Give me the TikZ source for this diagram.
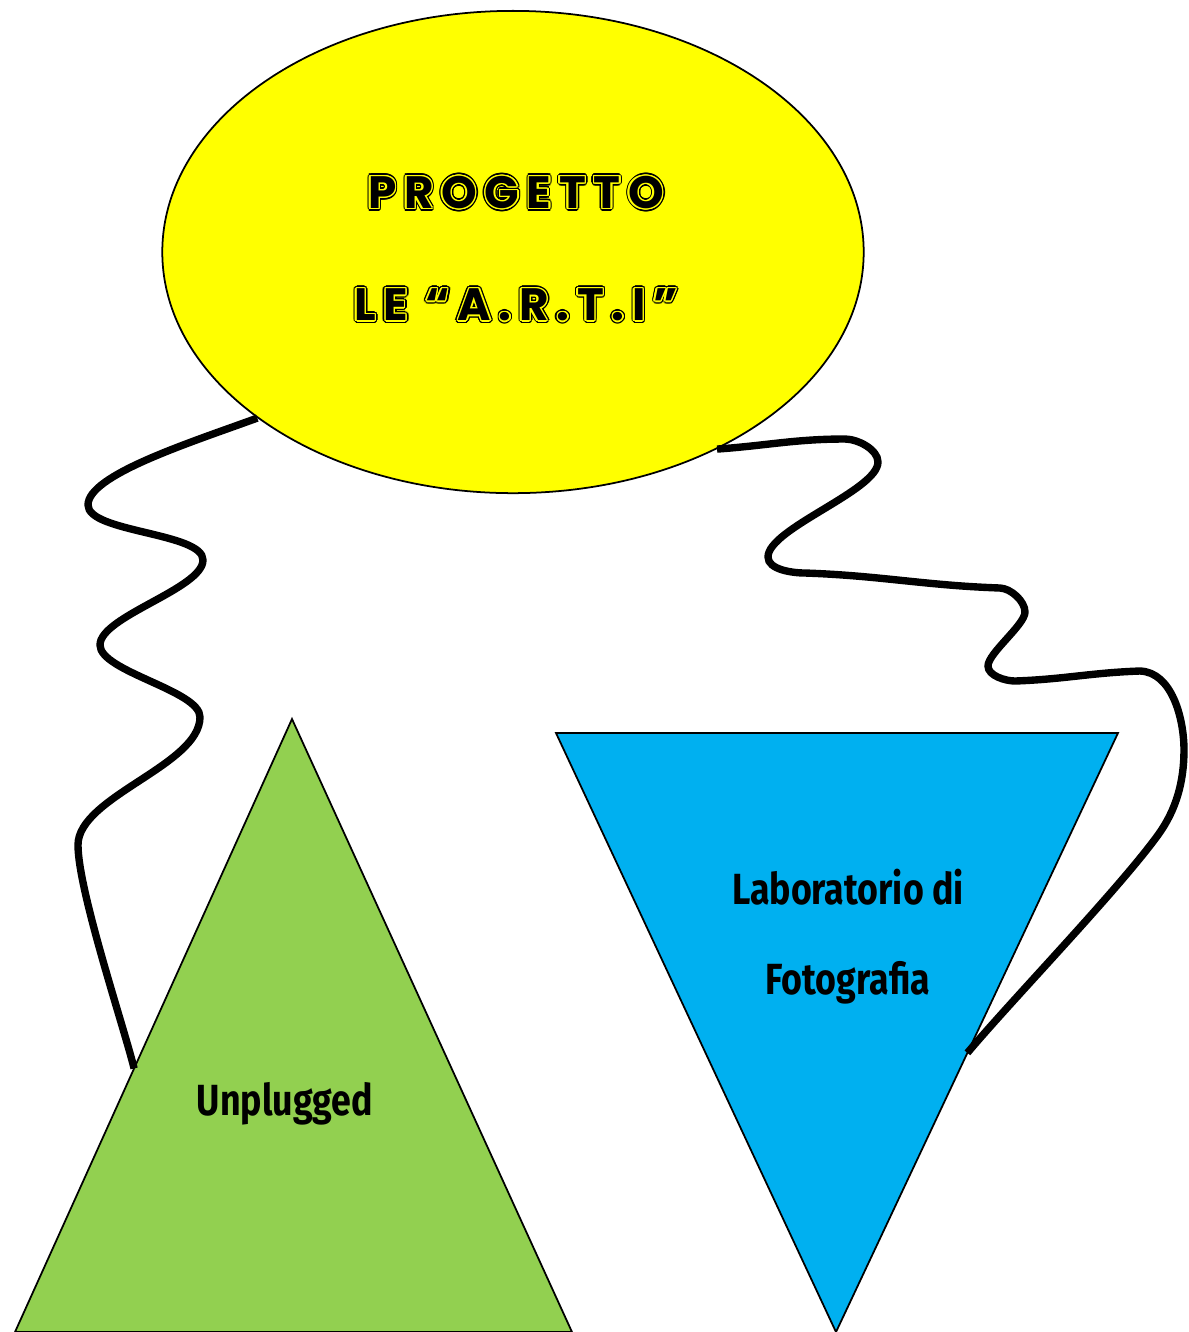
\documentclass[tikz,border=0pt]{standalone}
\usepackage{fontspec}
\usepackage{contour}
\usetikzlibrary{shapes.geometric,calc}
\setmainfont{Poppins}
\newfontfamily\titlefont[LetterSpace=17]{Poppins}
\newfontfamily\labfont[FakeStretch=0.82]{Fira Sans}
\definecolor{artyellow}{HTML}{FFFF00}
\definecolor{artgreen}{HTML}{92D050}
\definecolor{artblue}{HTML}{00B0F0}
\newcommand{\hollow}[1]{\rlap{\contourlength{0.8pt}\contour{black}{#1}}\contourlength{0.4pt}\contour{artyellow}{#1}}

\begin{document}
\begin{tikzpicture}[x=0.01cm,y=-0.01cm,
    wire/.style={line width=2.1pt},
    edge/.style={draw=black,line width=0.5pt},
    label/.style={font=\labfont\bfseries\fontsize{12.4}{25.6}\selectfont,align=center}]
  \useasboundingbox (0,0) rectangle (1189,1332);
  % Title
  \node[ellipse,edge,fill=artyellow,minimum width=7.01cm,minimum height=4.82cm,inner sep=0pt] (title) at (513,252) {};
  \node[font=\titlefont\bfseries\fontsize{12.9}{31.9}\selectfont,align=center] (titletext) at (516,250)
    {\hollow{PROGETTO}\\\hollow{LE “A.R.T.I”}};
  % Unplugged
  \coordinate (gtop) at (292,719);
  \coordinate (gleft) at (15,1332);
  \coordinate (gright) at (572,1332);
  \draw[edge,fill=artgreen] (gtop) -- (gleft) -- (gright) -- cycle;
  \node[label] (unplugged) at (285,1104) {Unplugged};
  % Laboratorio
  \coordinate (bleft) at (556,733);
  \coordinate (bright) at (1118,733);
  \coordinate (bbot) at (836,1332);
  \draw[edge,fill=artblue] (bleft) -- (bright) -- (bbot) -- cycle;
  \node[label] (lab) at (848,937) {Laboratorio di\\Fotografia};
  % Wires
  \coordinate (ujoin) at ($(gtop)!0.57!(gleft)$);
  \coordinate (ljoin) at ($(bright)!0.534!(bbot)$);
  \draw[wire] (title.213) to[out=200,in=90,in looseness=0.4] (88,505)
    to[out=270,in=90,looseness=0.55] (203,560)
    to[out=270,in=90,looseness=0.55] (100,645)
    to[out=270,in=90,looseness=0.55] (200,717)
    to[out=270,in=90,looseness=0.7] (78,845)
    to[out=270,in=104,looseness=0.5] (ujoin);
  \draw[wire] (title.-44) to[out=4,in=180] (845,439)
    to[out=0,in=90,looseness=0.8] (878,462)
    to[out=270,in=90,looseness=0.5] (768,557)
    to[out=270,in=180,looseness=0.8] (805,573)
    to[out=-2,in=178] (1000,588)
    to[out=-2,in=90,looseness=0.8] (1025,612)
    to[out=270,in=90,looseness=0.5] (988,666)
    to[out=270,in=180,looseness=0.8] (1015,681)
    to[out=2,in=182] (1140,671)
    to[out=-2,in=90,looseness=0.9] (1184,750)
    to[out=270,in=54,looseness=0.9] (1158,835)
    to[out=234,in=50,looseness=0.6] (ljoin);
\end{tikzpicture}
\end{document}
